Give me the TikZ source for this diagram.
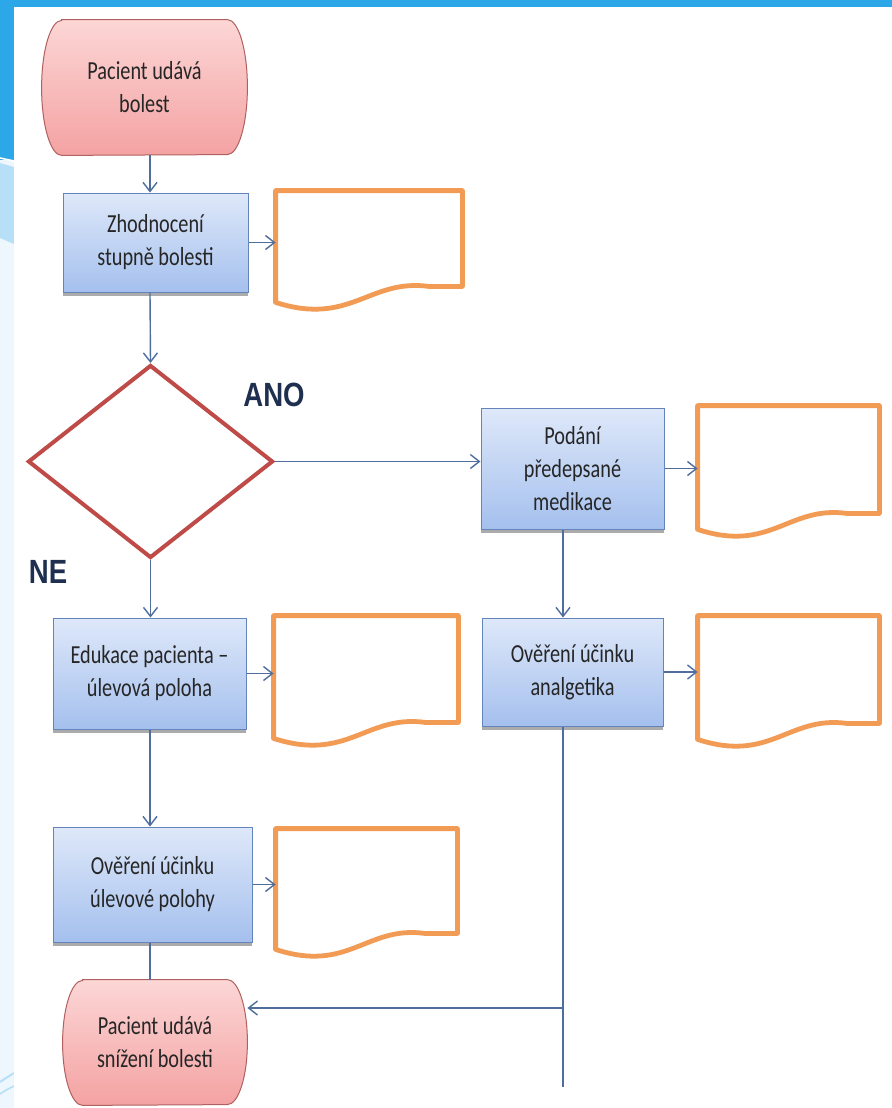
\documentclass[tikz,border=0pt]{standalone}
\usepackage{fontspec}
\newfontfamily\boxfont{Carlito}[FakeStretch=0.78]
\newfontfamily\labelfont{Liberation Sans}[FakeStretch=0.82]
\usetikzlibrary{shapes.geometric,shadows,arrows.meta,calc}

\pgfdeclarelayer{slide}
\pgfdeclarelayer{shapes}
\pgfsetlayers{slide,shapes,main}

\definecolor{slideblue}{HTML}{2CA7E8}
\definecolor{striplight}{HTML}{B7E0F8}
\definecolor{strippale}{HTML}{EEF7FD}
\definecolor{linkblue}{HTML}{4F6E9E}
\definecolor{termedge}{HTML}{B06060}
\definecolor{termtop}{HTML}{FCD6D6}
\definecolor{termbottom}{HTML}{F4A2A2}
\definecolor{boxedge}{HTML}{6485BC}
\definecolor{boxtop}{HTML}{DEE8F9}
\definecolor{boxbottom}{HTML}{A5C0EE}
\definecolor{decred}{HTML}{BE4B48}
\definecolor{docorange}{HTML}{F29B55}
\definecolor{textgray}{HTML}{262626}
\definecolor{ansnavy}{HTML}{1F2F4F}

\newcommand{\boxtext}{\boxfont\fontsize{13}{16.5}\selectfont}

\tikzset{
  flow/.style={draw=linkblue, line width=0.7pt},
  arr/.style={flow, -{Straight Barb[length=4.5pt, width=7pt]}},
  terminal/.style={rectangle, align=center, font=\boxtext, text=textgray, inner sep=0pt},
  term line/.style={draw=termedge, line width=0.5pt, top color=termtop, bottom color=termbottom},
  process/.style={rectangle, draw=boxedge, line width=0.5pt, top color=boxtop, bottom color=boxbottom,
    align=center, font=\boxtext, text=textgray, inner sep=0pt,
    drop shadow={shadow xshift=0pt, shadow yshift=-2pt, fill=black!55, opacity=0.6}},
  decision/.style={diamond, draw=decred, line width=2pt, inner sep=0pt, minimum width=122.5pt, minimum height=96.5pt},
  docbox/.style={rectangle, inner sep=0pt, outer sep=1.2pt},
  doc line/.style={draw=docorange, line width=2.4pt, line join=round, line cap=round},
  answer/.style={font=\labelfont\bfseries\fontsize{16.8}{18}\selectfont, text=ansnavy}
}

% document symbol with a wavy lower edge
\newcommand{\docshape}[1]{%
  \draw[doc line] (#1.south west) -- (#1.north west) -- (#1.north east) -- ($(#1.south east)+(0pt,8pt)$)
    -- ($(#1.south west)!0.82!(#1.south east)+(0pt,8pt)$)
    .. controls ($(#1.south west)!0.5!(#1.south east)+(0pt,12pt)$) and ($(#1.south west)!0.4!(#1.south east)+(0pt,-12pt)$) .. (#1.south west);}

% terminator outline behind the text: #2 = half height
\newcommand{\termshape}[2]{%
  \begin{pgfonlayer}{shapes}
    \path[term line] ($(#1.north west)+(10pt,0pt)$) -- ($(#1.north east)+(-10pt,0pt)$)
      arc[start angle=90, end angle=-90, x radius=10pt, y radius=#2]
      -- ($(#1.south west)+(10pt,0pt)$)
      arc[start angle=270, end angle=90, x radius=10pt, y radius=#2] -- cycle;
  \end{pgfonlayer}}

\begin{document}
\begin{tikzpicture}[x=0.5pt, y=-0.5pt]
  \useasboundingbox (0,0) rectangle (892,1108);

  % slide background
  \begin{pgfonlayer}{slide}
    \fill[slideblue] (0,0) rectangle (892,1108);
    \fill[strippale] (0,160) rectangle (14,1108);
    \fill[striplight] (0,163) -- (14,167) -- (14,244) -- (0,238) -- cycle;
    \draw[white, line width=0.8pt] (0,158) -- (14,161);
    \draw[striplight, line width=1pt] (0,1082) .. controls (6,1078) .. (14,1073);
    \draw[striplight, line width=0.8pt] (0,1094) .. controls (6,1090) .. (14,1086);
    \fill[white] (14,7) rectangle (892,1108);
  \end{pgfonlayer}

  \coordinate (colL) at (150,0);
  \coordinate (colR) at (563,0);

  \node[terminal, minimum width=102.5pt, minimum height=67.5pt] (start) at (144.5,87.5) {Pacient udává\\bolest};
  \termshape{start}{33.75pt}
  \node[process, minimum width=92.5pt, minimum height=49.5pt] (assess) at (155.5,242.5) {Zhodnocení\\stupně bolesti};
  \node[docbox, minimum width=91pt, minimum height=53.5pt] (docassess) at (369,246.5) {};

  \node[decision] (dec) at (150.5,461.5) {};
  \node[answer] (yes) at (274,395) {ANO};
  \node[answer] (no) at (48,572) {NE};

  \node[process, minimum width=91.5pt, minimum height=60.5pt] (medic) at (572.5,468.5) {Podání\\předepsané\\medikace};
  \node[docbox, minimum width=88.5pt, minimum height=59.5pt] (docmedic) at (788.5,467.5) {};
  \node[process, minimum width=90.5pt, minimum height=54pt] (checkmedic) at (572.5,672) {Ověření účinku\\analgetika};
  \node[docbox, minimum width=88.5pt, minimum height=59.5pt] (doccheckmedic) at (788.5,677.5) {};

  \node[process, minimum width=96.5pt, minimum height=55.5pt] (educ) at (149.5,673.5) {Edukace pacienta –\\úlevová poloha};
  \node[docbox, minimum width=90pt, minimum height=59pt] (doceduc) at (366,677) {};
  \node[process, minimum width=99.5pt, minimum height=57.5pt] (checkpos) at (152.5,884.5) {Ověření účinku\\úlevové polohy};
  \node[docbox, minimum width=88.5pt, minimum height=58pt] (doccheckpos) at (366.5,889) {};

  \node[terminal, minimum width=92pt, minimum height=62.5pt] (finish) at (155,1042.5) {Pacient udává\\snížení bolesti};
  \termshape{finish}{31.25pt}

  \foreach \d in {docassess, docmedic, doccheckmedic, doceduc, doccheckpos}
    \docshape{\d};

  \coordinate (merge) at (563,1008);
  \coordinate (tail) at (563,1087);

  \draw[arr] (start.south -| colL) -- (assess.north -| colL);
  \draw[arr] (assess.east) -- (assess.east -| docassess.west);
  \draw[arr] (assess.south -| colL) -- (dec.north);
  \draw[arr] (dec.east) -- (dec.east -| medic.west);
  \draw[arr] (medic.east) -- (medic.east -| docmedic.west);
  \draw[arr] (medic.south -| colR) -- (checkmedic.north -| colR);
  \draw[arr] (checkmedic.east) -- (checkmedic.east -| doccheckmedic.west);
  \draw[arr] (dec.south) -- (educ.north -| dec.south);
  \draw[arr] (educ.east) -- (educ.east -| doceduc.west);
  \draw[arr] (educ.south -| colL) -- (checkpos.north -| colL);
  \draw[arr] (checkpos.east) -- (checkpos.east -| doccheckpos.west);
  \draw[flow] (checkpos.south -| colL) -- (finish.north -| colL);
  \draw[flow] (checkmedic.south -| colR) -- (tail);
  \draw[arr] (merge) -- (merge -| finish.east);
\end{tikzpicture}
\end{document}
